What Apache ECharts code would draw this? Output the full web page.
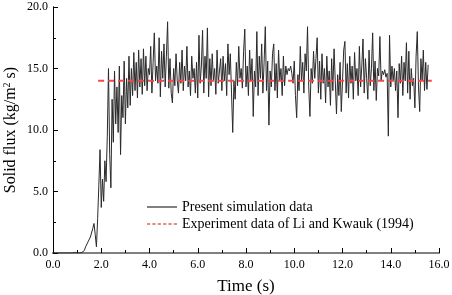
<!DOCTYPE html>
<html>
<head>
<meta charset="utf-8">
<script src="https://cdn.jsdelivr.net/npm/echarts@6/dist/echarts.min.js"></script>
<style>html,body{margin:0;padding:0;background:#fff}#c{width:452px;height:295px}</style>
</head>
<body>
<div id="c"></div>
<script>
const xTicks = [0, 2, 4, 6, 8, 10, 12, 14, 16];
const yTicks = [0, 5, 10, 15, 20];
const simName = 'Present simulation data';
const expName = 'Experiment data of Li and Kwauk (1994)';
const time = [
0,0.05,0.1,0.15,0.2,0.25,0.3,0.35,0.4,0.45,0.5,0.55,0.6,0.65,0.7,0.75,0.8,0.85,0.9,0.95,
1,1.05,1.1,1.15,1.2,1.25,1.3,1.35,1.4,1.45,1.5,1.55,1.6,1.65,1.7,1.75,1.8,1.85,1.9,1.95,
2,2.05,2.1,2.15,2.2,2.25,2.3,2.35,2.4,2.45,2.5,2.55,2.6,2.65,2.7,2.75,2.8,2.85,2.9,2.95,
3,3.05,3.1,3.15,3.2,3.25,3.3,3.35,3.4,3.45,3.5,3.55,3.6,3.65,3.7,3.75,3.8,3.85,3.9,3.95,
4,4.05,4.1,4.15,4.2,4.25,4.3,4.35,4.4,4.45,4.5,4.55,4.6,4.65,4.7,4.75,4.8,4.85,4.9,4.95,
5,5.05,5.1,5.15,5.2,5.25,5.3,5.35,5.4,5.45,5.5,5.55,5.6,5.65,5.7,5.75,5.8,5.85,5.9,5.95,
6,6.05,6.1,6.15,6.2,6.25,6.3,6.35,6.4,6.45,6.5,6.55,6.6,6.65,6.7,6.75,6.8,6.85,6.9,6.95,
7,7.05,7.1,7.15,7.2,7.25,7.3,7.35,7.4,7.45,7.5,7.55,7.6,7.65,7.7,7.75,7.8,7.85,7.9,7.95,
8,8.05,8.1,8.15,8.2,8.25,8.3,8.35,8.4,8.45,8.5,8.55,8.6,8.65,8.7,8.75,8.8,8.85,8.9,8.95,
9,9.05,9.1,9.15,9.2,9.25,9.3,9.35,9.4,9.45,9.5,9.55,9.6,9.65,9.7,9.75,9.8,9.85,9.9,9.95,
10,10.05,10.1,10.15,10.2,10.25,10.3,10.35,10.4,10.45,10.5,10.55,10.6,10.65,10.7,10.75,10.8,10.85,10.9,10.95,
11,11.05,11.1,11.15,11.2,11.25,11.3,11.35,11.4,11.45,11.5,11.55,11.6,11.65,11.7,11.75,11.8,11.85,11.9,11.95,
12,12.05,12.1,12.15,12.2,12.25,12.3,12.35,12.4,12.45,12.5,12.55,12.6,12.65,12.7,12.75,12.8,12.85,12.9,12.95,
13,13.05,13.1,13.15,13.2,13.25,13.3,13.35,13.4,13.45,13.5,13.55,13.6,13.65,13.7,13.75,13.8,13.85,13.9,13.95,
14,14.05,14.1,14.15,14.2,14.25,14.3,14.35,14.4,14.45,14.5,14.55,14.6,14.65,14.7,14.75,14.8,14.85,14.9,14.95,
15,15.05,15.1,15.15,15.2,15.25,15.3,15.35,15.4,15.45,15.5,15.55
];
const flux = [
0,0,0,0,0,0,0,0,0,0,0,0,0,0,0,0,0,0,0.05,0,
0,0.05,0,0.1,0.05,0.1,0.2,0.5,0.4,0.9,0.8,1.3,1.2,2.0,2.4,1.5,0.5,2.8,5.5,8.4,
3.7,6.0,4.2,7.5,5.8,9.5,15.0,8.0,5.3,12.5,9.0,14.8,10.5,13.5,9.8,15.2,8.0,12.8,11.0,15.6,
10.5,14.2,11.8,16.0,12.0,15.0,12.8,16.3,13.2,15.5,12.6,16.5,13.5,15.8,12.9,16.6,13.6,16.0,13.2,15.0,
14.5,16.8,13.0,15.5,17.9,14.0,15.2,13.8,17.5,12.7,16.4,14.2,17.0,13.5,16.0,18.8,13.4,15.8,13.0,12.2,
15.0,13.6,16.2,14.0,13.0,15.5,13.8,16.5,13.2,15.2,14.0,16.8,13.5,14.8,12.8,16.0,14.2,15.0,13.0,15.5,
12.6,17.7,13.8,15.2,18.1,13.0,16.0,14.2,18.3,12.7,15.8,13.6,16.2,14.0,15.0,12.9,16.5,13.8,14.8,15.8,
13.2,16.0,14.0,15.4,12.8,17.0,14.5,16.2,13.0,9.8,14.0,12.5,15.5,13.6,16.8,14.2,15.0,13.4,16.4,18.2,
13.5,15.2,12.8,16.5,14.0,15.8,11.1,14.8,13.5,18.0,12.8,16.0,14.2,17.0,13.0,15.5,18.4,13.2,15.6,10.4,
14.8,13.5,16.2,17.0,13.2,15.4,12.6,16.5,14.0,15.0,12.8,16.0,13.6,15.2,14.5,15.0,14.8,15.2,14.6,13.8,
15.6,12.8,11.0,14.5,13.2,16.8,14.0,15.5,13.0,16.2,14.8,18.4,13.5,11.1,15.0,13.8,16.4,14.2,15.8,17.5,
13.0,15.6,12.5,16.2,13.8,15.0,12.2,16.0,13.5,14.8,12.0,15.8,13.2,16.6,14.0,11.3,14.5,12.8,15.5,11.5,
14.0,16.5,17.2,13.0,15.4,12.6,16.0,13.8,15.2,12.5,16.3,14.0,15.0,12.8,16.8,13.5,15.2,17.4,13.0,15.8,
14.2,12.5,16.5,13.6,15.0,17.9,13.2,15.6,12.4,15.0,14.4,17.6,14.0,14.8,14.5,14.9,14.3,14.6,9.5,17.7,
13.5,15.2,14.0,15.0,13.2,14.8,11.0,15.4,13.8,16.0,12.8,15.5,14.0,17.1,13.0,16.4,12.5,15.0,13.6,14.2,
11.8,16.0,18.0,13.5,11.5,15.8,14.0,16.5,13.2,15.5,13.3,15.3
];
const expTime = [1.87, 15.7];
const expFlux = [14, 14];

const FONT = '"Liberation Serif", "Times New Roman", serif';
const chart = echarts.init(document.getElementById('c'), null, {renderer: 'canvas'});
const simData = time.map((t, i) => [t, flux[i]]);
const expData = expTime.map((t, i) => [t, expFlux[i]]);
const fmt = v => v.toFixed(1);

chart.setOption({
  animation: false,
  backgroundColor: '#fff',
  grid: {left: 53, right: 13, top: 7, bottom: 42, containLabel: false, outerBoundsMode: 'none'},
  legend: {
    orient: 'vertical', left: 142, top: 195, itemWidth: 30, itemHeight: 10, itemGap: 3,
    textStyle: {fontFamily: FONT, fontSize: 14, color: '#000'},
    data: [
      {name: simName, icon: 'path://M0,0H30V2H0Z', itemStyle: {color: '#808080'}},
      {name: expName, icon: 'path://M0,0H3V1H0ZM5,0H8V1H5ZM10,0H13V1H10ZM15,0H18V1H15ZM20,0H23V1H20ZM25,0H28V1H25Z', itemStyle: {color: '#cc1a1a'}}
    ]
  },
  xAxis: [{
    type: 'value', min: xTicks[0], max: xTicks[xTicks.length - 1], interval: 2,
    name: 'Time (s)', nameLocation: 'middle', nameGap: 25, nameMoveOverlap: false,
    nameTextStyle: {fontFamily: FONT, fontSize: 17, color: '#000'},
    axisLine: {lineStyle: {color: '#555', width: 1.5}},
    axisTick: {inside: true, length: 5, lineStyle: {color: '#000'}},
    minorTick: {show: true, splitNumber: 2, length: 3, lineStyle: {color: '#000'}},
    axisLabel: {formatter: fmt, fontFamily: FONT, fontSize: 12, color: '#000', margin: 6},
    splitLine: {show: false}
  }, {
    type: 'value', position: 'top', min: 0, max: 16,
    axisLine: {lineStyle: {color: '#808080', width: 2}},
    axisTick: {show: false}, axisLabel: {show: false}, splitLine: {show: false}
  }],
  yAxis: [{
    type: 'value', min: yTicks[0], max: yTicks[yTicks.length - 1], interval: 5,
    name: 'Solid flux (kg/m{sup|2} s)', nameLocation: 'middle', nameGap: 33, nameMoveOverlap: false,
    nameTextStyle: {fontFamily: FONT, fontSize: 16, lineHeight: 18, color: '#000',
      rich: {sup: {fontFamily: FONT, fontSize: 10, lineHeight: 10, color: '#000', verticalAlign: 'top'}}},
    axisLine: {lineStyle: {color: '#000', width: 1}},
    axisTick: {inside: true, length: 5, lineStyle: {color: '#000'}},
    minorTick: {show: true, splitNumber: 2, length: 3, lineStyle: {color: '#000'}},
    axisLabel: {formatter: fmt, fontFamily: FONT, fontSize: 12, color: '#000', margin: 5},
    splitLine: {show: false}
  }, {
    type: 'value', position: 'right', min: 0, max: 20,
    axisLine: {show: true, lineStyle: {color: '#000', width: 1}},
    axisTick: {show: false}, axisLabel: {show: false}, splitLine: {show: false}
  }],
  series: [{
    name: simName, type: 'line', data: simData, showSymbol: false, symbol: 'none',
    lineStyle: {color: '#2a2a2a', width: 1}, itemStyle: {color: '#2a2a2a'}, z: 2
  }, {
    name: expName, type: 'line', data: expData, showSymbol: false, symbol: 'none',
    lineStyle: {color: '#f04848', width: 2, type: [6, 4]}, itemStyle: {color: '#d02020'}, z: 3
  }]
});
</script>
</body>
</html>
